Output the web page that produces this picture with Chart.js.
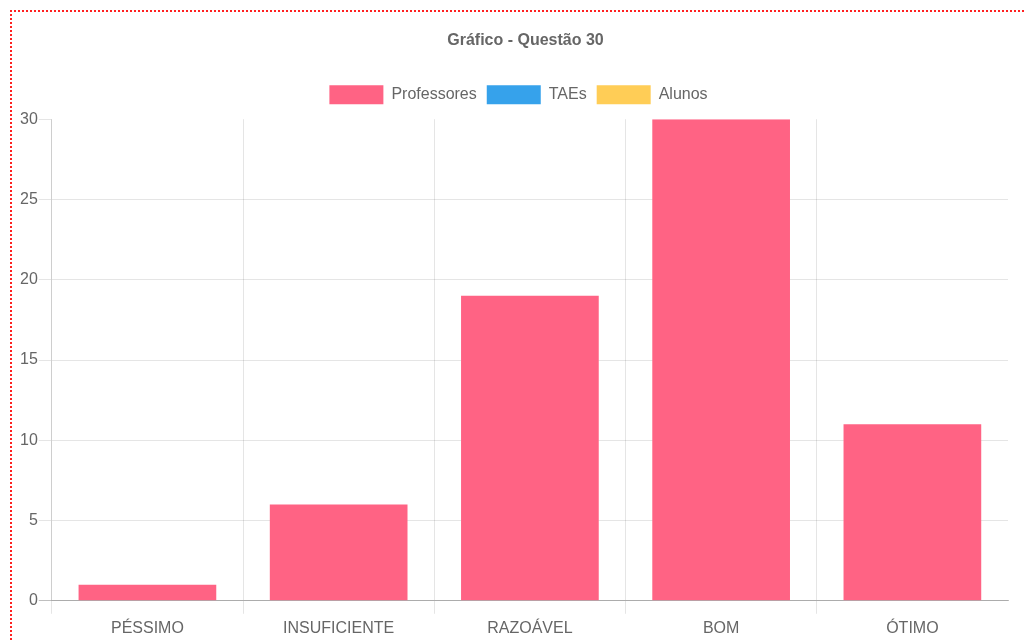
<!DOCTYPE html>
<html>
<head>
<meta charset="utf-8">
<script src="https://cdn.jsdelivr.net/npm/chart.js@4.4.1/dist/chart.umd.min.js"></script>
<style>
  html, body { margin: 0; padding: 0; background: #fff; overflow: hidden; width: 1026px; height: 642px; }
  #box { position: absolute; left: 10px; top: 10px; width: 1040px; height: 660px; border-left: 2px dotted #ff2020; border-top: 2px dotted #ff2020; }
  #c { position: absolute; left: -1px; top: -1px; }
</style>
</head>
<body>
<div id="box"><canvas id="c" width="1027" height="640"></canvas></div>
<script>
const titleText = 'Gráfico - Questão 30';
const categories = ['PÉSSIMO', 'INSUFICIENTE', 'RAZOÁVEL', 'BOM', 'ÓTIMO'];
const seriesNames = ['Professores', 'TAEs', 'Alunos'];
const professores = [1, 6, 19, 30, 11];
const taes = [];
const alunos = [];
const colors = ['rgb(255, 99, 132)', 'rgb(54, 162, 235)', 'rgb(255, 205, 86)'];
const yTicks = [0, 5, 10, 15, 20, 25, 30];

const FONT = "'Liberation Sans', Arial, Helvetica, sans-serif";
const GRID = 'rgba(0,0,0,0.1)';
const AXIS = 'rgba(0,0,0,0.25)';

const layoutTweaks = {
  id: 'layoutTweaks',
  beforeInit(chart) {
    const lg = chart.legend;
    const origFit = lg.fit;
    lg.fit = function () { origFit.call(this); this.height += 5; };
  },
  afterLayout(chart) {
    chart.titleBlock.left += 12; chart.titleBlock.right += 12;
    chart.legend.left += 5; chart.legend.right += 5;
  }
};

new Chart(document.getElementById('c'), {
  type: 'bar',
  plugins: [layoutTweaks],
  data: {
    labels: categories,
    datasets: [
      { label: seriesNames[0], data: professores, backgroundColor: colors[0], borderColor: 'rgba(255,99,132,0.5)', borderWidth: 0 },
      { label: seriesNames[1], data: taes, backgroundColor: colors[1], borderColor: 'rgba(54,162,235,0.5)', borderWidth: 0 },
      { label: seriesNames[2], data: alunos, backgroundColor: colors[2], borderColor: 'rgba(255,205,86,0.5)', borderWidth: 0 }
    ]
  },
  options: {
    responsive: false,
    animation: false,
    devicePixelRatio: 1,
    layout: { padding: { left: 8, right: 30, top: 10, bottom: 8 } },
    plugins: {
      title: {
        display: true, text: titleText, color: '#666',
        font: { family: FONT, size: 16, weight: 'bold' },
        padding: { top: 10, bottom: 25 }
      },
      legend: {
        position: 'top',
        labels: { color: '#666', font: { family: FONT, size: 16 }, boxWidth: 54, boxHeight: 19, padding: 10 }
      },
      tooltip: { enabled: false }
    },
    scales: {
      x: {
        stacked: true,
        grid: {
          offset: true,
          color: (ctx) => ctx.tick ? GRID : 'transparent',
          tickColor: (ctx) => ctx.tick ? GRID : 'transparent',
          tickLength: 13
        },
        border: { color: AXIS },
        ticks: { color: '#666', font: { family: FONT, size: 16 }, padding: 5, maxRotation: 0 }
      },
      y: {
        stacked: true,
        beginAtZero: true,
        min: yTicks[0],
        max: yTicks[yTicks.length - 1],
        afterBuildTicks: (scale) => { scale.ticks = yTicks.map(v => ({ value: v })); },
        grid: {
          color: (ctx) => (ctx.tick && ctx.tick.value === yTicks[yTicks.length - 1]) ? 'transparent' : GRID,
          tickColor: (ctx) => (ctx.tick && ctx.tick.value === 0) ? AXIS : GRID,
          tickLength: 13
        },
        border: { color: GRID },
        ticks: { color: '#666', font: { family: FONT, size: 16 }, padding: 1 }
      }
    }
  }
});
</script>
</body>
</html>
